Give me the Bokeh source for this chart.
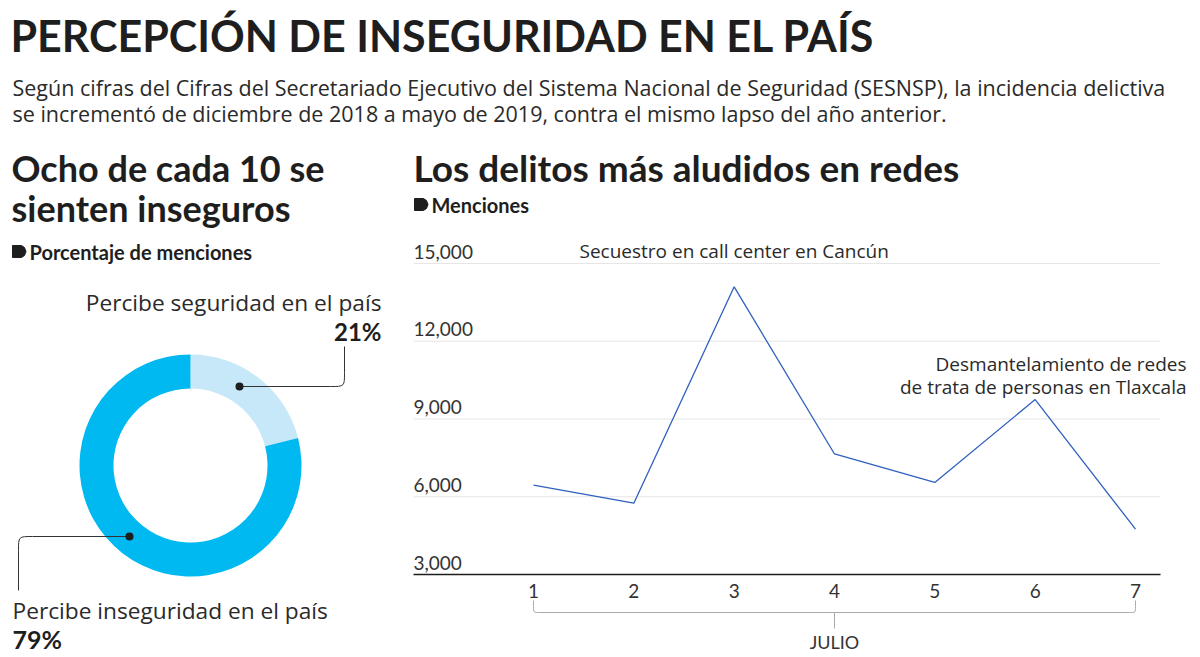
import numpy as np
from bokeh.plotting import figure
from bokeh.models import Range1d
from bokeh.core.properties import value
from bokeh.embed import file_html
from bokeh.resources import INLINE

# ---------------- data ----------------
days = [1, 2, 3, 4, 5, 6, 7]
day_labels = ["1", "2", "3", "4", "5", "6", "7"]
menciones = [6450, 5750, 14100, 7650, 6550, 9750, 4750]
y_ticks = [3000, 6000, 9000, 12000, 15000]
y_tick_labels = ["3,000", "6,000", "9,000", "12,000", "15,000"]
donut_labels = ["Percibe seguridad en el país", "Percibe inseguridad en el país"]
donut_values = [21, 79]
donut_colors = ["#C6E8F8", "#00B9F1"]

W, H = 1200, 657
FONT = value("Lato")
BODY = value("Open Sans")
DARK = "#1e1e1e"

p = figure(width=W, height=H, output_backend="svg", toolbar_location=None,
           x_range=Range1d(0, W), y_range=Range1d(H, 0),
           x_axis_type=None, y_axis_type=None, min_border=0,
           outline_line_color=None, background_fill_color="white")
p.grid.visible = False

# secondary scales for the line chart (1 at px 533, 7 at px 1135; 3000 at px 574, 15000 at px 263)
ux = (1135 - 533) / 6.0
uy = (574 - 263) / 12000.0
p.extra_x_ranges = {"line": Range1d(1 - 533 / ux, 1 + (W - 533) / ux)}
p.extra_y_ranges = {"line": Range1d(3000 - (H - 574) / uy, 15000 + 263 / uy)}

# ---------------- header ----------------
p.text(x=[10], y=[35], text=["PERCEPCIÓN DE INSEGURIDAD EN EL PAÍS"],
       text_font=FONT, text_font_style="bold",
       text_font_size="43px", text_color=DARK, text_baseline="middle")
p.text(x=[12, 12], y=[87, 113],
       text=["Según cifras del Cifras del Secretariado Ejecutivo del Sistema Nacional de Seguridad (SESNSP), la incidencia delictiva",
             "se incrementó de diciembre de 2018 a mayo de 2019, contra el mismo lapso del año anterior."],
       text_font=BODY, text_font_size="21.5px", text_color="#2a2a2a", text_baseline="middle")

# ---------------- left panel ----------------
p.text(x=[11, 11], y=[167, 207], text=["Ocho de cada 10 se", "sienten inseguros"],
       text_font=FONT, text_font_style="bold", text_font_size="36px",
       text_color=DARK, text_baseline="middle")

def tag(x0, yc):
    xs = [x0, x0 + 9, x0 + 12, x0 + 13.5, x0 + 12, x0 + 9, x0]
    ys = [yc - 6, yc - 6, yc - 4, yc, yc + 4, yc + 6, yc + 6]
    p.patch(xs, ys, fill_color=DARK, line_color=DARK, line_width=1)

tag(12, 251)
p.text(x=[29], y=[251], text=["Porcentaje de menciones"], text_font=FONT,
       text_font_style="bold", text_font_size="20px", text_color=DARK,
       text_baseline="middle")

# donut
cx, cy, r_in, r_out = 190, 465, 77, 111
fr = np.array(donut_values, dtype=float) / sum(donut_values)
ends = np.pi / 2 - 2 * np.pi * np.cumsum(fr)
starts = np.concatenate([[np.pi / 2], ends[:-1]])
p.annular_wedge(x=[cx] * len(fr), y=[cy] * len(fr), inner_radius=r_in, outer_radius=r_out,
                inner_radius_units="screen", outer_radius_units="screen",
                start_angle=starts, end_angle=ends, direction="clock",
                fill_color=donut_colors, line_color=None)

# leaders
LC = "#333333"
p.line([239, 330], [386, 386], line_color=LC, line_width=1)
p.bezier(x0=[330], y0=[386], x1=[344], y1=[372], cx0=[344], cy0=[386], cx1=[344], cy1=[386],
         line_color=LC, line_width=1)
p.line([344, 344], [372, 346], line_color=LC, line_width=1)
p.line([129, 32], [536, 536], line_color=LC, line_width=1)
p.bezier(x0=[32], y0=[536], x1=[18], y1=[550], cx0=[18], cy0=[536], cx1=[18], cy1=[536],
         line_color=LC, line_width=1)
p.line([18, 18], [550, 590], line_color=LC, line_width=1)
p.scatter(x=[239, 129], y=[386, 536], size=8, fill_color=DARK, line_color=None)

p.text(x=[381], y=[302], text=[donut_labels[0]], text_font=BODY, text_font_size="22.7px",
       text_color="#2a2a2a", text_baseline="middle", text_align="right")
p.text(x=[381], y=[331], text=[f"{donut_values[0]}%"], text_font=FONT, text_font_style="bold",
       text_font_size="24px", text_color=DARK, text_baseline="middle", text_align="right")
p.text(x=[12], y=[610], text=[donut_labels[1]], text_font=BODY, text_font_size="22.7px",
       text_color="#2a2a2a", text_baseline="middle")
p.text(x=[12], y=[638], text=[f"{donut_values[1]}%"], text_font=FONT, text_font_style="bold",
       text_font_size="25px", text_color=DARK, text_baseline="middle")

# ---------------- right panel ----------------
p.text(x=[413], y=[167], text=["Los delitos más aludidos en redes"], text_font=FONT,
       text_font_style="bold", text_font_size="37px", text_color=DARK, text_baseline="middle")
tag(414, 204)
p.text(x=[431], y=[204], text=["Menciones"], text_font=FONT, text_font_style="bold",
       text_font_size="20px", text_color=DARK, text_baseline="middle")

X0, X1 = 413, 1160
grid_y = y_ticks[1:]
p.segment(x0=[X0] * len(grid_y), x1=[X1] * len(grid_y), y0=grid_y, y1=grid_y,
          y_range_name="line", line_color="#e6e6e6", line_width=1)
p.segment(x0=[X0], x1=[X1], y0=[y_ticks[0]], y1=[y_ticks[0]], y_range_name="line",
          line_color=DARK, line_width=1.5)
p.text(x=[X0] * len(y_ticks), y=y_ticks, text=y_tick_labels, y_range_name="line",
       text_font=FONT, text_font_size="19px", text_color="#333333",
       text_baseline="middle", y_offset=-12)

p.line(x=days, y=menciones, x_range_name="line", y_range_name="line",
       line_color="#2F5FBF", line_width=1.3)

p.text(x=days, y=[590] * len(days), text=day_labels, x_range_name="line",
       text_font=FONT, text_font_size="19px", text_color="#333333",
       text_baseline="middle", text_align="center")

# bracket under days
BC = "#aaaaaa"
d = 6 / ux
xa, xb, xm = days[0], days[-1], (days[0] + days[-1]) / 2
p.line([xa, xa], [600, 606], x_range_name="line", line_color=BC, line_width=1)
p.bezier(x0=[xa, xb], y0=[606, 606], x1=[xa + d, xb - d], y1=[612, 612],
         cx0=[xa, xb], cy0=[612, 612], cx1=[xa, xb], cy1=[612, 612],
         x_range_name="line", line_color=BC, line_width=1)
p.line([xa + d, xb - d], [612, 612], x_range_name="line", line_color=BC, line_width=1)
p.line([xb, xb], [600, 606], x_range_name="line", line_color=BC, line_width=1)
p.line([xm, xm], [612, 628], x_range_name="line", line_color=BC, line_width=1)
p.text(x=[xm], y=[641], text=["JULIO"], x_range_name="line", text_font=FONT,
       text_font_size="18px", text_color="#333333", text_baseline="middle", text_align="center")

# annotations
i_max = int(np.argmax(menciones))
p.text(x=[days[i_max]], y=[250], text=["Secuestro en call center en Cancún"], x_range_name="line",
       text_font=BODY, text_font_size="19px", text_color="#2a2a2a",
       text_baseline="middle", text_align="center")
p.text(x=[1186, 1186], y=[363, 386],
       text=["Desmantelamiento de redes", "de trata de personas en Tlaxcala"],
       text_font=BODY, text_font_size="19px", text_color="#2a2a2a",
       text_baseline="middle", text_align="right")

open("out.html", "w").write(file_html(p, INLINE))
